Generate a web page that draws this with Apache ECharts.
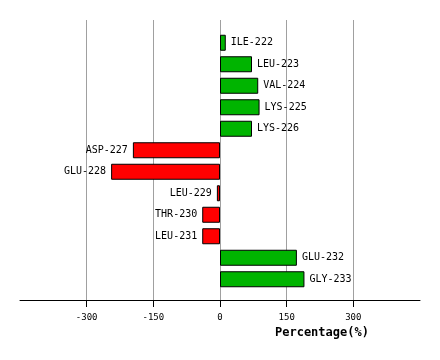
<!DOCTYPE html>
<html>
<head>
<meta charset="utf-8">
<script src="https://cdn.jsdelivr.net/npm/echarts@6/dist/echarts.min.js"></script>
<style>html,body{margin:0;padding:0;background:#fff;}#c{width:440px;height:360px;}</style>
</head>
<body>
<div id="c"></div>
<script>
const categories = ['ILE-222','LEU-223','VAL-224','LYS-225','LYS-226','ASP-227','GLU-228','LEU-229','THR-230','LEU-231','GLU-232','GLY-233'];
const values = [13, 72, 86, 89, 72, -196, -245, -7, -40, -40, 173, 190];
const tickValues = [-300, -150, 0, 150, 300];
const axisName = 'Percentage(%)';

const font = 'DejaVu Sans Mono, monospace';
const chart = echarts.init(document.getElementById('c'), null, {renderer: 'canvas'});
chart.setOption({
  animation: false,
  backgroundColor: '#fff',
  grid: [
    {left: 20, width: 400, top: 20, height: 280},
    {left: 20, width: 400, top: 32, height: 258}
  ],
  xAxis: [
    {
      gridIndex: 0, type: 'value', min: -450, max: 450, interval: 150,
      axisLine: {show: true, onZero: false, lineStyle: {color: '#000', width: 1}},
      axisTick: {show: true, length: 7, customValues: tickValues, lineStyle: {color: '#000'}},
      axisLabel: {show: true, customValues: tickValues, margin: 13, color: '#000', fontFamily: font, fontSize: 9},
      splitLine: {show: true, lineStyle: {color: '#a0a0a0', width: 1}}
    },
    {
      gridIndex: 1, type: 'value', min: -450, max: 450, show: false,
      splitLine: {show: false}
    }
  ],
  yAxis: [
    {gridIndex: 0, type: 'value', show: false, splitLine: {show: false}},
    {gridIndex: 1, type: 'category', inverse: true, data: categories, show: false}
  ],
  graphic: [{
    type: 'text', left: 275, top: 327,
    style: {text: axisName, font: 'bold 12px DejaVu Sans Mono, monospace', fill: '#000'}
  }],
  series: [{
    type: 'bar', xAxisIndex: 1, yAxisIndex: 1,
    barWidth: 16,
    data: values.map(v => ({
      value: v,
      itemStyle: {color: v >= 0 ? '#00b400' : '#ff0000', borderColor: '#000', borderWidth: 1},
      label: {show: true, position: v >= 0 ? 'right' : 'left', distance: 5}
    })),
    label: {
      formatter: p => categories[p.dataIndex],
      color: '#000', fontFamily: font, fontSize: 10
    }
  }]
});
</script>
</body>
</html>
